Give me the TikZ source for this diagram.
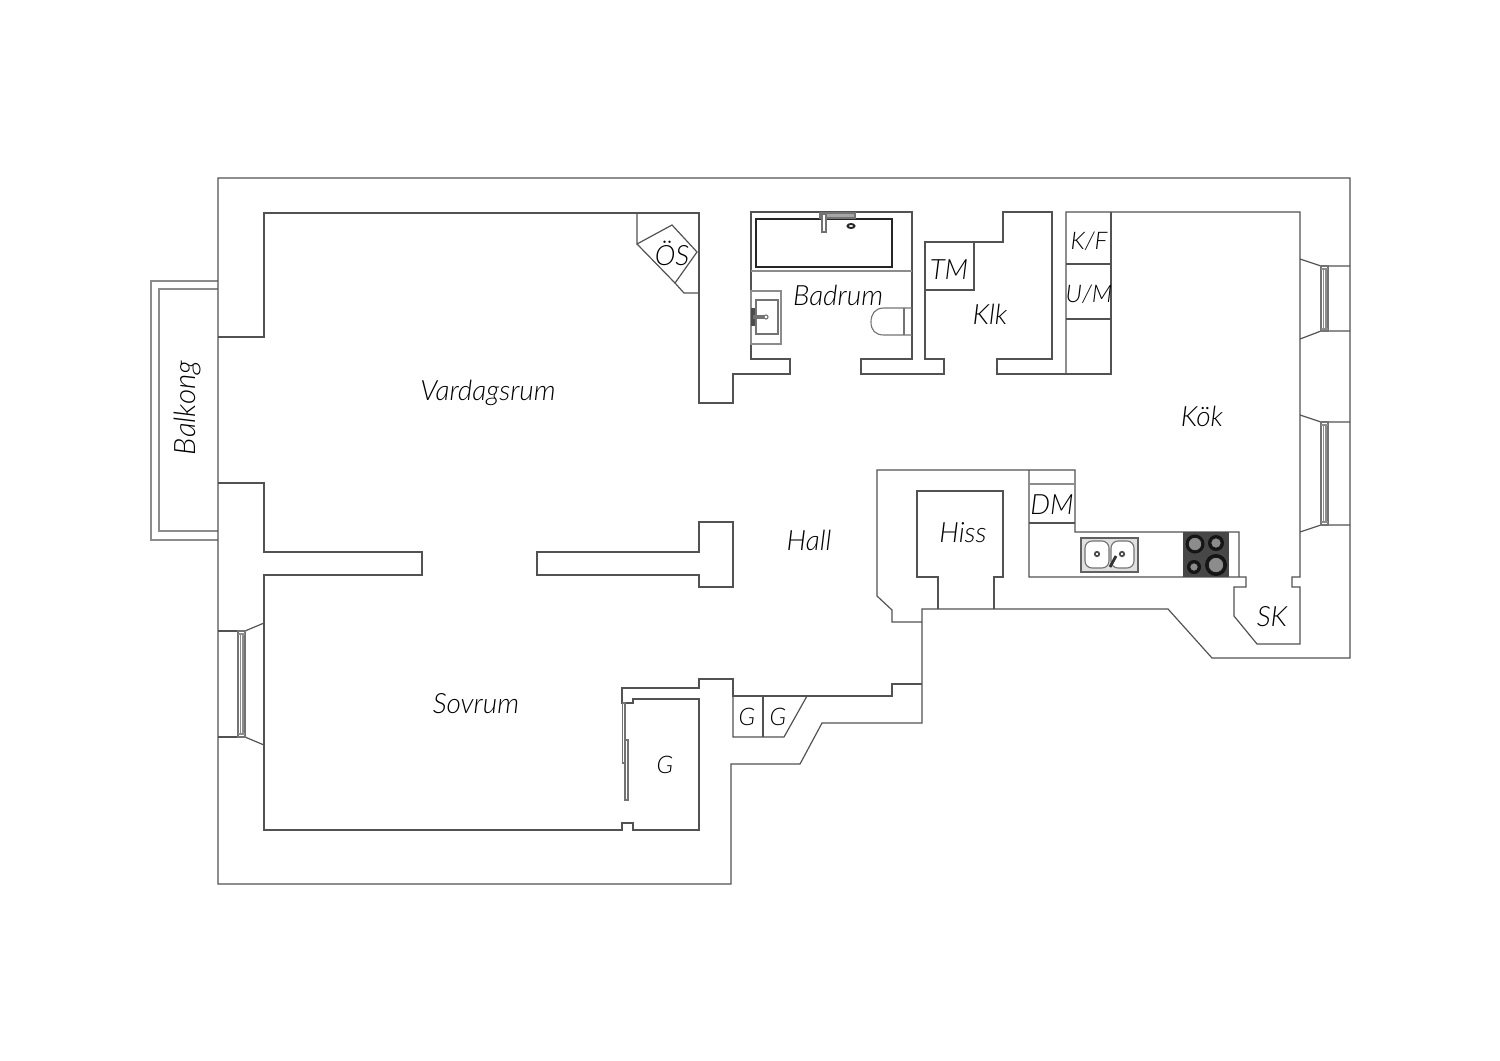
\documentclass[tikz,border=0pt]{standalone}
\usepackage{fontspec}
\setmainfont{Lato}[ItalicFont=Lato Light Italic]
\usepackage{tikz}
\tikzset{
  wall/.style={draw=black!68,line width=.34pt,line join=miter},
  thin/.style={draw=black!45,line width=.4pt},
  fixture/.style={draw=black!55,line width=.32pt,fill=white},
  ring/.style={draw=black!90,line width=.4pt,fill=black!45},
  room/.style={font=\itshape\fontsize{7.95}{9}\selectfont,text=black,inner sep=0pt},
  store/.style={font=\itshape\fontsize{6.9}{8}\selectfont,text=black,inner sep=0pt},
}
\begin{document}
\begin{tikzpicture}[x=0.01cm,y=-0.01cm]
\useasboundingbox (0,0) rectangle (1500,1060);
% balcony
\draw[thin] (218,281) -- (151,281) -- (151,540) -- (218,540);
\draw[thin] (218,289) -- (159,289) -- (159,531) -- (218,531);
% outer wall
\draw[wall] (218,178) -- (1350,178) -- (1350,658) -- (1212,658) -- (1168,609) -- (922,609) -- (922,723) -- (822,723) -- (800,764) -- (731,764) -- (731,884) -- (218,884) -- cycle;
% rooms
\draw[wall] (218,337) -- (264,337) -- (264,213) -- (699,213) -- (699,403) -- (733,403) -- (733,374) -- (790,374) -- (790,359) -- (751,359) -- (751,212) -- (912,212) -- (912,359) -- (861,359) -- (861,374) -- (944,374) -- (944,359) -- (925,359) -- (925,242) -- (1003,242) -- (1003,212) -- (1052,212) -- (1052,359) -- (997,359) -- (997,374) -- (1111,374) -- (1111,212);
\draw[wall] (1066,374) -- (1066,212) -- (1300,212) -- (1300,577) -- (1292,577) -- (1292,587) -- (1300,587) -- (1300,644) -- (1257,644) -- (1234,616) -- (1234,587) -- (1246,587) -- (1246,577) -- (1029,577) -- (1029,470);
\draw[wall] (1239,577) -- (1239,532) -- (1075,532) -- (1075,470) -- (877,470) -- (877,596) -- (892,610) -- (892,622) -- (922,622);
\draw[wall] (922,684) -- (892,684) -- (892,696) -- (733,696) -- (733,679) -- (699,679) -- (699,688) -- (622,688) -- (622,703) -- (633,703) -- (633,699) -- (699,699) -- (699,830) -- (633,830) -- (633,823) -- (622,823) -- (622,830) -- (264,830) -- (264,575) -- (422,575) -- (422,552) -- (264,552) -- (264,483) -- (218,483);
\draw[wall] (537,552) -- (699,552) -- (699,522) -- (733,522) -- (733,587) -- (699,587) -- (699,575) -- (537,575) -- cycle;
% shaft, lift
\draw[wall] (938,609) -- (938,577) -- (917,577) -- (917,491) -- (1003,491) -- (1003,577) -- (994,577) -- (994,609);
% closets
\draw[wall] (637,213) -- (637,244) -- (672,225) -- (697,252) -- (675,283) -- (637,244);
\draw[wall] (675,283) -- (684,293) -- (699,293);
\draw[wall] (925,290) -- (974,290) -- (974,242);
\draw[wall] (1066,264) -- (1111,264);
\draw[wall] (1066,319) -- (1111,319);
\draw[wall] (1029,523) -- (1075,523);
\draw[thin] (1029,484) -- (1075,484);
\draw[wall] (733,696) -- (733,737) -- (784,737) -- (807,696);
\draw[wall] (763,696) -- (763,737);
% sliding doors
\draw[fixture] (622.5,703) rectangle (625,763);
\draw[fixture] (625,740) rectangle (628,800);
% windows
\draw[wall] (1300,259) -- (1321,266) -- (1350,266);
\draw[wall] (1300,339) -- (1321,331) -- (1350,331);
\draw[fixture] (1321,266) rectangle (1328,331);
\draw[thin] (1323.5,269) -- (1323.5,329) (1326,269) -- (1326,329) (1321,269) -- (1328,269) (1321,329) -- (1328,329);
\draw[wall] (1300,415) -- (1321,422) -- (1350,422);
\draw[wall] (1300,532) -- (1321,525) -- (1350,525);
\draw[fixture] (1321,422) rectangle (1328,525);
\draw[thin] (1323.5,425) -- (1323.5,522) (1326,425) -- (1326,522) (1321,425) -- (1328,425) (1321,522) -- (1328,522);
\draw[wall] (218,631) -- (238,631);
\draw[wall] (218,737) -- (238,737);
\draw[wall] (264,623) -- (245,631);
\draw[wall] (264,745) -- (245,737);
\draw[fixture] (238,631) rectangle (245,737);
\draw[thin] (240.5,634) -- (240.5,734) (243,634) -- (243,734) (238,634) -- (245,634) (238,734) -- (245,734);
% bath
\draw[thin] (751,271) -- (912,271);
\draw[draw=black!85,line width=.65pt] (756,219) rectangle (892,267);
\draw[fixture,fill=black!35] (820,213) rectangle (855,218);
\draw[fixture] (822,214) rectangle (826,232);
\draw[draw=black!85,line width=.55pt] (851,226) ellipse [x radius=3.5,y radius=2];
% basin
\draw[thin] (751,291) rectangle (781,344);
\draw[fixture] (756,300) rectangle (778,334);
\fill[black!70] (751,308) rectangle (755,326);
\draw[fixture] (754,316) rectangle (765,318);
\draw[fixture] (766,317) circle [radius=2];
% toilet
\draw[fixture,fill=none] (912,308) -- (884,308) .. controls (875,308) and (871,314) .. (871,322) .. controls (871,330) and (875,335) .. (884,335) -- (912,335);
\draw[fixture] (904,308) -- (904,335);
% kitchen sink
\draw[draw=black!62,line width=.7pt,fill=black!12] (1081,538) rectangle (1138,572);
\draw[fixture,rounded corners=2pt] (1085,541) rectangle (1109,568);
\draw[fixture,rounded corners=2pt] (1111,541) rectangle (1134,568);
\draw[draw=black!70,line width=.5pt] (1097,554) circle [radius=2.2];
\draw[draw=black!70,line width=.5pt] (1122,554) circle [radius=2.2];
\draw[draw=black!80,line width=.8pt] (1110,567) -- (1116,556);
% hob
\fill[black!72] (1183,532) rectangle (1229,577);
\fill[black!92] (1195,544) circle [radius=9.5];
\draw[ring] (1195,544) circle [radius=7];
\fill[black!92] (1216,543) circle [radius=8];
\draw[ring] (1216,543) circle [radius=5.5];
\fill[black!92] (1194,567) circle [radius=7];
\draw[ring] (1194,567) circle [radius=4.5];
\fill[black!92] (1216,565) circle [radius=11];
\draw[ring] (1216,565) circle [radius=8];
% labels
\node[room] (vardagsrum) at (488,392.5) {Vardagsrum};
\node[room,rotate=90,font=\itshape\fontsize{8.4}{9}\selectfont] (balkong) at (187,408) {Balkong};
\node[room] (badrum) at (838,295) {Badrum};
\node[room] (klk) at (990,314) {Klk};
\node[room] (kok) at (1202,416) {Kök};
\node[room] (hall) at (809,540) {Hall};
\node[room] (hiss) at (963,533) {Hiss};
\node[room] (sovrum) at (476,704) {Sovrum};
\node[room] (os) at (672,253) {ÖS};
\node[room] (tm) at (949,270) {TM};
\node[room] (dm) at (1052,505) {DM};
\node[room] (sk) at (1272,617) {SK};
\node[store] (kf) at (1089,241) {K/F};
\node[store] (um) at (1089,294) {U/M};
\node[store] (garderob) at (665,765) {G};
\node[store] (garderobA) at (747,717) {G};
\node[store] (garderobB) at (778,717) {G};
\end{tikzpicture}
\end{document}
